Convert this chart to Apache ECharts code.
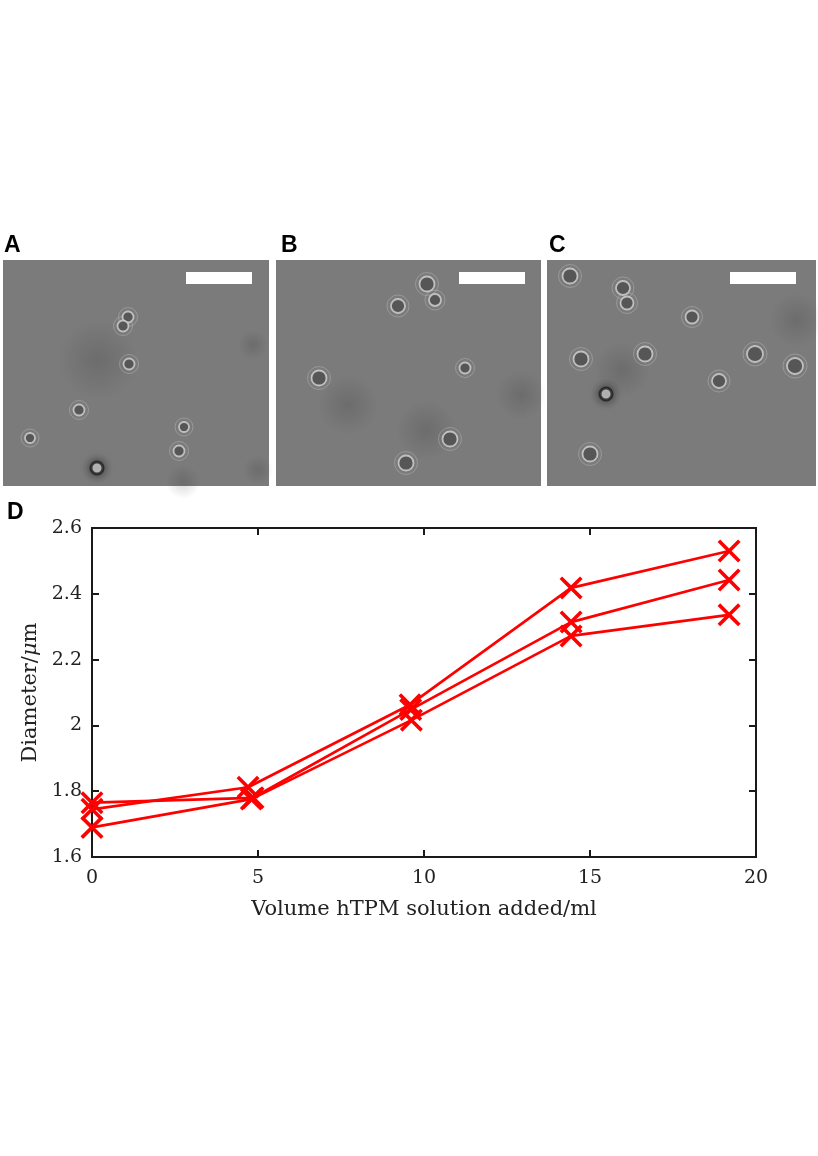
<!DOCTYPE html>
<html>
<head>
<meta charset="utf-8">
<script src="https://cdn.jsdelivr.net/npm/echarts@6/dist/echarts.min.js"></script>
<style>
html,body{margin:0;padding:0;background:#fff;}
#main{width:818px;height:1156px;}
</style>
</head>
<body>
<div id="main"></div>
<script>
// particles in each micrograph, panel pixel coords [x, y, size]
var particlesA = [[125,57,11],[120,66,11],[126,104,11],[76,150,11],[27,178,10],[181,167,10],[176,191,11]];
var brightA = [[94,208]];
var shadeA = [[95,100,80],[250,85,30],[255,210,30],[180,222,34]];
var particlesB = [[151,24,15],[159,40,12],[122,46,14],[189,108,11],[43,118,15],[174,179,15],[130,203,15]];
var brightB = [];
var shadeB = [[72,145,60],[245,135,50],[150,170,60]];
var particlesC = [[23,16,15],[76,28,14],[80,43,13],[145,57,13],[34,99,15],[98,94,15],[208,94,16],[248,106,16],[172,121,14],[43,194,15],[253,-3,15]];
var brightC = [[59,134]];
var shadeC = [[75,110,55],[250,60,55]];
var scaleBar = [[183,18],[249,18]];

// panel D data
var xTicks = [0,5,10,15,20];
var run1 = [[0,1.745],[4.7,1.812],[9.58,2.063],[14.43,2.418],[19.19,2.53]];
var run2 = [[0,1.765],[4.85,1.78],[9.6,2.048],[14.43,2.314],[19.19,2.442]];
var run3 = [[0,1.69],[4.8,1.776],[9.62,2.016],[14.43,2.272],[19.19,2.336]];

var panels = [
  {left:3, width:266, pts:particlesA, bright:brightA, shade:shadeA},
  {left:276, width:265, pts:particlesB, bright:brightB, shade:shadeB},
  {left:547, width:269, pts:particlesC, bright:brightC, shade:shadeC}
];

var crossPath = 'path://M0,2.2L2.2,0L10,7.8L17.8,0L20,2.2L12.2,10L20,17.8L17.8,20L10,12.2L2.2,20L0,17.8L7.8,10Z';
var serif = 'DejaVu Serif';
var softDark = {type:'radial', x:0.5, y:0.5, r:0.5, colorStops:[
  {offset:0, color:'rgba(40,40,40,0.22)'}, {offset:1, color:'rgba(40,40,40,0)'}]};

var grids = [], xAxes = [], yAxes = [], series = [];

panels.forEach(function(p, i){
  grids.push({left:p.left, top:260, width:p.width, height:226, show:true,
    backgroundColor:'#7b7b7b', borderWidth:0, containLabel:false});
  xAxes.push({type:'value', gridIndex:i, min:0, max:p.width, show:false});
  yAxes.push({type:'value', gridIndex:i, min:0, max:226, inverse:true, show:false});
  series.push({type:'scatter', xAxisIndex:i, yAxisIndex:i, data:p.shade, clip:true,
    symbolSize:function(d){ return d[2]; },
    itemStyle:{color:softDark},
    silent:true, z:1});
  series.push({type:'scatter', xAxisIndex:i, yAxisIndex:i, data:p.pts, clip:true,
    symbolSize:function(d){ return d[2]+8; },
    itemStyle:{color:'rgba(0,0,0,0)', borderColor:'rgba(225,225,225,0.35)', borderWidth:1},
    silent:true, z:2});
  series.push({type:'scatter', xAxisIndex:i, yAxisIndex:i, data:p.pts, clip:true,
    symbolSize:function(d){ return d[2]; },
    itemStyle:{color:'#4d4d4d', borderColor:'#d4d4d4', borderWidth:1.8},
    silent:true, z:3});
  series.push({type:'scatter', xAxisIndex:i, yAxisIndex:i, data:p.bright, clip:true,
    symbolSize:12,
    itemStyle:{color:'#fff', borderColor:'#1e1e1e', borderWidth:3, shadowBlur:10, shadowColor:'rgba(20,20,20,0.8)'},
    silent:true, z:3});
  series.push({type:'line', xAxisIndex:i, yAxisIndex:i, data:scaleBar, symbol:'none',
    lineStyle:{color:'#fff', width:12, cap:'butt'}, silent:true, z:4});
});

// panel D
grids.push({left:92, top:528, right:62, bottom:299, show:true, borderColor:'#1a1a1a', borderWidth:2, backgroundColor:'#fff'});
var gi = 3;
var axisText = {color:'#222', fontFamily:serif, fontSize:19};
var boxLine = {show:true, onZero:false, lineStyle:{color:'#1a1a1a', width:2}};
var boxTick = {inside:true, length:7, lineStyle:{color:'#1a1a1a', width:2}};
xAxes.push({type:'value', gridIndex:gi, min:0, max:20, interval:5, position:'bottom',
  axisLine:boxLine, axisTick:boxTick,
  axisLabel:Object.assign({margin:12, formatter:function(v){ return xTicks.indexOf(v) >= 0 ? v : ''; }}, axisText),
  splitLine:{show:false},
  name:'Volume hTPM solution added/ml', nameLocation:'middle', nameGap:42,
  nameTextStyle:{color:'#222', fontFamily:serif, fontSize:21}});
xAxes.push({type:'value', gridIndex:gi, min:0, max:20, interval:5, position:'top',
  axisLine:boxLine, axisTick:boxTick,
  axisLabel:{show:false}, splitLine:{show:false}});
yAxes.push({type:'value', gridIndex:gi, min:1.6, max:2.6, interval:0.2, position:'left',
  axisLine:boxLine, axisTick:boxTick,
  axisLabel:Object.assign({margin:10, formatter:function(v){ return Math.abs(v-2) < 1e-9 ? '2' : v.toFixed(1); }}, axisText),
  splitLine:{show:false},
  name:'Diameter/{i|μ}m', nameLocation:'middle', nameGap:50, nameRotate:90,
  nameTextStyle:{color:'#222', fontFamily:serif, fontSize:21,
    rich:{i:{fontStyle:'italic', fontFamily:serif, fontSize:21, color:'#222'}}}});
yAxes.push({type:'value', gridIndex:gi, min:1.6, max:2.6, interval:0.2, position:'right',
  axisLine:boxLine, axisTick:boxTick,
  axisLabel:{show:false}, splitLine:{show:false}});

[run1, run2, run3].forEach(function(run){
  series.push({type:'line', xAxisIndex:3, yAxisIndex:3, data:run,
    symbol:crossPath, symbolSize:23, showAllSymbol:true,
    lineStyle:{color:'#ff0000', width:2.7},
    itemStyle:{color:'#ff0000'}, z:5, clip:false});
});

var chart = echarts.init(document.getElementById('main'), null, {renderer:'canvas'});
chart.setOption({
  animation:false,
  backgroundColor:'#fff',
  grid:grids,
  xAxis:xAxes,
  yAxis:yAxes,
  series:series,
  graphic:[
    {type:'text', left:4, top:234, style:{text:'A', font:'bold 23px "Liberation Sans"', fill:'#000'}},
    {type:'text', left:281, top:234, style:{text:'B', font:'bold 23px "Liberation Sans"', fill:'#000'}},
    {type:'text', left:549, top:234, style:{text:'C', font:'bold 23px "Liberation Sans"', fill:'#000'}},
    {type:'text', left:7, top:501, style:{text:'D', font:'bold 23px "Liberation Sans"', fill:'#000'}}
  ]
});
</script>
</body>
</html>
